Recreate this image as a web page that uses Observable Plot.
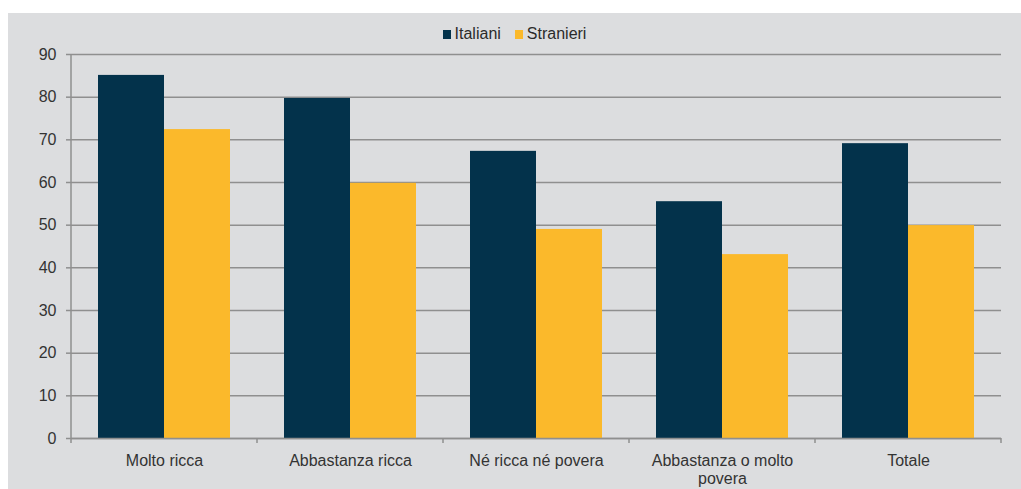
<!DOCTYPE html>
<html><head><meta charset="utf-8">
<script src="https://cdn.jsdelivr.net/npm/d3@7"></script>
<script src="https://cdn.jsdelivr.net/npm/@observablehq/plot@0.6"></script>
<style>
html,body{margin:0;padding:0;background:#fff;}
#panel{position:absolute;left:8px;top:13px;width:1013px;height:476px;background:#dcdddf;font-family:"Liberation Sans",Arial,sans-serif;overflow:hidden;}
#legend{position:absolute;left:0;top:0;width:100%;height:42px;display:flex;justify-content:center;align-items:center;font-size:16px;color:#2b2b2b;z-index:1;}
.item{display:flex;align-items:center;margin:0 7px;}
.sw{width:8px;height:9px;margin-right:4px;}
#chart{position:absolute;left:0;top:27px;}
</style>
</head><body>
<div id="panel"><div id="chart"></div><div id="legend"></div></div>
<script>
const categories = ["Molto ricca","Abbastanza ricca","Né ricca né povera","Abbastanza o molto povera","Totale"];
const tickLabels = ["Molto ricca","Abbastanza ricca","Né ricca né povera","Abbastanza o molto\npovera","Totale"];
const series = ["Italiani","Stranieri"];
const colors = ["#03324b","#fbb92b"];
const italiani = [85.1, 79.7, 67.3, 55.5, 69.1];
const stranieri = [72.4, 59.8, 49.0, 43.1, 49.9];
const yTicks = [0,10,20,30,40,50,60,70,80,90];

const data = categories.flatMap((c,i)=>[
  {cat:c, series:series[0], value:italiani[i]},
  {cat:c, series:series[1], value:stranieri[i]}
]);

const legend = document.getElementById("legend");
series.forEach((s,i)=>{
  const it = document.createElement("div"); it.className="item";
  const sw = document.createElement("span"); sw.className="sw"; sw.style.background=colors[i];
  const t = document.createElement("span"); t.textContent=s;
  it.appendChild(sw); it.appendChild(t); legend.appendChild(it);
});

const gray = "#8f8f8f";
const plot = Plot.plot({
  width:1013, height:449, marginTop:14, marginBottom:51, marginLeft:62, marginRight:19,
  style:{background:"transparent", fontFamily:"Liberation Sans, Arial, sans-serif", fontSize:"16px", color:"#333"},
  fx:{domain:categories, padding:0, label:null},
  x:{domain:series, paddingInner:0, paddingOuter:0.4, axis:null},
  y:{domain:[0,90], label:null},
  color:{domain:series, range:colors},
  marks:[
    Plot.gridY(yTicks, {stroke:gray, strokeOpacity:1, strokeWidth:1.5}),
    Plot.barY(data, {fx:"cat", x:"series", y:"value", fill:"series"}),
    Plot.ruleY([0], {stroke:gray, strokeWidth:1.5}),
    Plot.axisY(yTicks, {tickSize:5, tickPadding:10, stroke:gray, strokeWidth:1.5, fill:"#333", fontSize:16, label:null}),
    Plot.axisFx({anchor:"bottom", tickSize:0, tickPadding:15, tickFormat:d=>tickLabels[categories.indexOf(d)], fontSize:16, lineHeight:1.12, fill:"#333", label:null})
  ]
});
document.getElementById("chart").appendChild(plot);

const fx = plot.scale("fx"), y = plot.scale("y");
const edges = categories.map(c=>fx.apply(c));
edges.push(edges[edges.length-1] + fx.bandwidth);
const svg = d3.select(plot);
const g = svg.append("g").attr("stroke", gray).attr("stroke-width", 1.5);
g.append("line").attr("x1", edges[0]).attr("x2", edges[0]).attr("y1", y.apply(90)).attr("y2", y.apply(0));
edges.forEach(e=>{
  g.append("line").attr("x1", e).attr("x2", e).attr("y1", y.apply(0)).attr("y2", y.apply(0)+5);
});
</script>
</body></html>
